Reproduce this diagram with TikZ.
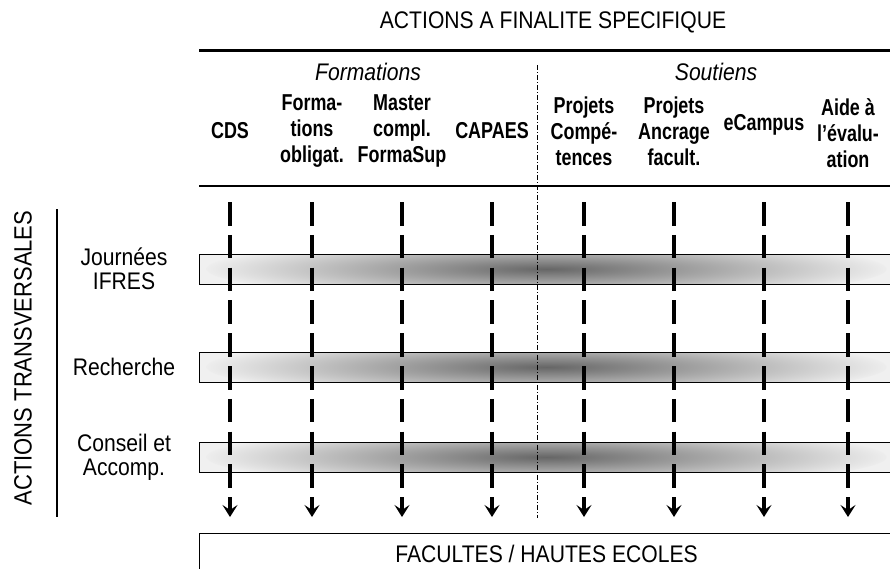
\documentclass[tikz,border=0pt]{standalone}
\usepackage{fontspec}
\setmainfont{Liberation Sans}[FakeStretch=0.88]
\newfontfamily\colfont{Liberation Sans}[FakeStretch=0.78]
\usetikzlibrary{arrows.meta}
\tikzset{
    collabel/.style={font=\colfont\bfseries\fontsize{23}{26}\selectfont,align=center},
    grouplabel/.style={font=\itshape\fontsize{24}{26}\selectfont},
    rowlabel/.style={font=\fontsize{24}{24}\selectfont,align=center},
    plainlabel/.style={font=\fontsize{24}{26}\selectfont},
    barbox/.style={draw=black,line width=1pt,fill=black!6,inner sep=0pt,
        minimum width=694pt,minimum height=30pt,anchor=west,
        path picture={\shade[inner color=black!60,outer color=black!6]
            (path picture bounding box.center) ellipse (340pt and 30pt);}},
    facbox/.style={draw=black,line width=1pt,inner sep=0pt,
        minimum width=694pt,minimum height=40pt,anchor=north west},
    flow/.style={line width=3.5pt,dash pattern=on 23.5pt off 9.3pt,
        -{Stealth[length=12pt,width=15pt,inset=5pt]}},
    sepline/.style={line width=0.8pt,dash pattern=on 5pt off 2pt on 1pt off 2pt}
}
\begin{document}
\begin{tikzpicture}[x=1pt,y=-1pt]
    \useasboundingbox (0,0) rectangle (890,568);

    \node[plainlabel] (title) at (553,22) {ACTIONS A FINALITE SPECIFIQUE};
    \coordinate (hl) at (199,50);
    \coordinate (hr) at (890,50);
    \coordinate (ml) at (199,186);
    \coordinate (mr) at (890,186);
    \draw[line width=3pt] (hl) -- (hr);
    \draw[line width=1.5pt] (ml) -- (mr);

    \node[grouplabel] (form) at (368,72) {Formations};
    \node[grouplabel] (sout) at (716,72) {Soutiens};

    \node[collabel] (cds) at (230,131) {CDS};
    \node[collabel] (oblig) at (312,131) {Forma-\\tions\\obligat.};
    \node[collabel] (master) at (402,131) {Master\\compl.\\FormaSup};
    \node[collabel] (capaes) at (492,131) {CAPAES};
    \node[collabel] (comp) at (584,131) {Projets\\Compé-\\tences};
    \node[collabel] (ancr) at (674,131) {Projets\\Ancrage\\facult.};
    \node[collabel] (ecamp) at (764,125) {eCampus};
    \node[collabel] (aide) at (848,133) {Aide à\\l’évalu-\\ation};

    \node[plainlabel,font=\fontsize{25}{26}\selectfont,rotate=90] (transv) at (23,358) {ACTIONS TRANSVERSALES};
    \coordinate (lt) at (57,209);
    \coordinate (lb) at (57,517);
    \draw[line width=1.2pt] (lt) -- (lb);

    \node[barbox] (bar1) at (199,269) {};
    \node[barbox] (bar2) at (199,367) {};
    \node[barbox] (bar3) at (199,457) {};
    \node[rowlabel] (ifres) at (124,269) {Journées\\IFRES};
    \node[rowlabel] (rech) at (124,367) {Recherche};
    \node[rowlabel] (conseil) at (124,457) {Conseil et\\Accomp.};

    \coordinate (st) at (537,65);
    \coordinate (sb) at (537,518);
    \draw[sepline] (st) -- (sb);

    \foreach \x [count=\i] in {230,312,402,492,584,674,764,848} {
        \coordinate (t\i) at (\x,202);
        \coordinate (b\i) at (\x,517);
        \draw[flow] (t\i) -- (b\i);
    }

    \node[facbox,plainlabel] (fac) at (199,533) {FACULTES / HAUTES ECOLES};
\end{tikzpicture}
\end{document}
